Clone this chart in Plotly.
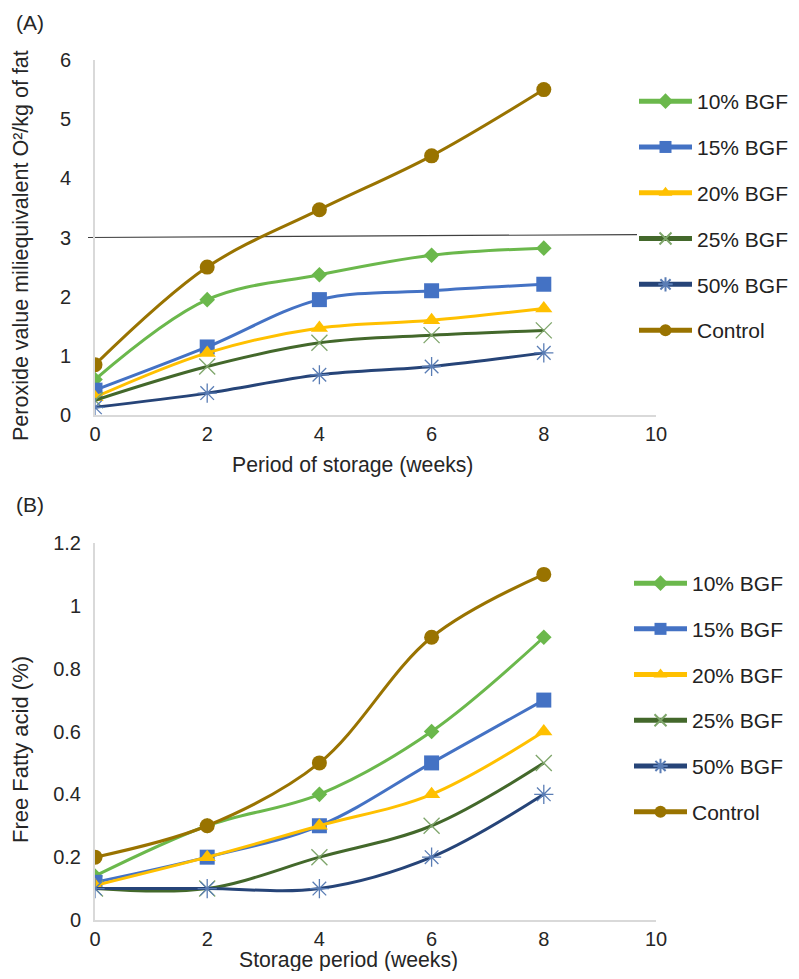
import plotly.graph_objects as go

# Figure is sized to fit inside the page body's default 8px margin
BODY = 8
W, H = 799 - 2 * BODY, 979 - 2 * BODY

weeks = [0, 2, 4, 6, 8]
series_names = ["10% BGF", "15% BGF", "20% BGF", "25% BGF", "50% BGF", "Control"]

# Panel A: peroxide value
pv_10 = [0.60, 1.95, 2.37, 2.70, 2.82]
pv_15 = [0.42, 1.15, 1.95, 2.10, 2.21]
pv_20 = [0.30, 1.05, 1.47, 1.60, 1.80]
pv_25 = [0.25, 0.82, 1.22, 1.35, 1.43]
pv_50 = [0.13, 0.37, 0.68, 0.82, 1.05]
pv_ctrl = [0.85, 2.50, 3.47, 4.38, 5.50]

# Panel B: free fatty acid
ffa_10 = [0.14, 0.30, 0.40, 0.60, 0.90]
ffa_15 = [0.12, 0.20, 0.30, 0.50, 0.70]
ffa_20 = [0.11, 0.20, 0.30, 0.40, 0.60]
ffa_25 = [0.10, 0.10, 0.20, 0.30, 0.50]
ffa_50 = [0.10, 0.10, 0.10, 0.20, 0.40]
ffa_ctrl = [0.20, 0.30, 0.50, 0.90, 1.10]

limit_value = [3.0, 3.05]  # reference line (slightly tilted in the original)

colors = ["#6BB84C", "#4472C4", "#FFC000", "#43682B", "#264478", "#997300"]
marker_line = ["#6BB84C", "#4472C4", "#FFC000", "#7EA56A", "#5A7DB5", "#997300"]
symbols = ["diamond", "square", "triangle-up", "x-thin", "asterisk", "circle"]
msizes = [12, 15, 15, 16, 16, 15]

FONT = "Liberation Sans, Arial, sans-serif"
TXT = "#262626"

def px_x(p):
    return (p - BODY) / W

def px_y(p):
    return 1 - (p - BODY) / H

fig = go.Figure()

for panel, data, xa, ya, leg in [
    ("a", [pv_10, pv_15, pv_20, pv_25, pv_50, pv_ctrl], "x", "y", "legend"),
    ("b", [ffa_10, ffa_15, ffa_20, ffa_25, ffa_50, ffa_ctrl], "x2", "y2", "legend2"),
]:
    for i, (name, vals) in enumerate(zip(series_names, data)):
        thin = symbols[i] in ("x-thin", "asterisk")
        marker = dict(symbol=symbols[i], size=msizes[i], color=colors[i],
                      line=dict(color=marker_line[i], width=1.3 if thin else 0))
        fig.add_trace(go.Scatter(
            x=weeks, y=vals, name=name, mode="lines+markers",
            line=dict(color=colors[i], width=3, shape="spline", smoothing=1),
            marker=marker, xaxis=xa, yaxis=ya, legend=leg,
            legendgroup=f"{panel}{i}",
        ))

axis_common = dict(showgrid=False, zeroline=False, showline=True,
                   linecolor="#D9D9D9", linewidth=2, ticks="", automargin=False,
                   tickfont=dict(family=FONT, size=20, color=TXT))

xdom = [px_x(95), px_x(656)]
legend_font = dict(family=FONT, size=21, color="#222")
fig.update_layout(
    width=W, height=H,
    margin=dict(l=0, r=0, t=0, b=0, autoexpand=False),
    paper_bgcolor="white", plot_bgcolor="white",
    font=dict(family=FONT, color=TXT),
    xaxis=dict(domain=xdom, range=[0, 10], tickvals=[0, 2, 4, 6, 8, 10],
               anchor="y", ticklabelstandoff=0, **axis_common),
    yaxis=dict(domain=[px_y(415), px_y(60)], range=[0, 6], dtick=1,
               anchor="x", ticklabelstandoff=18, **axis_common),
    xaxis2=dict(domain=xdom, range=[0, 10], tickvals=[0, 2, 4, 6, 8, 10],
                anchor="y2", ticklabelstandoff=0, **axis_common),
    yaxis2=dict(domain=[px_y(920), px_y(543)], range=[0, 1.2], dtick=0.2,
                anchor="x2", ticklabelstandoff=8, **axis_common),
    legend=dict(x=px_x(634), y=px_y(81), xanchor="left", yanchor="top",
                font=legend_font, tracegroupgap=15.5, itemsizing="constant",
                bgcolor="rgba(0,0,0,0)", itemwidth=53),
    legend2=dict(x=px_x(629), y=px_y(563), xanchor="left", yanchor="top",
                 font=legend_font, tracegroupgap=15.4, itemsizing="constant",
                 bgcolor="rgba(0,0,0,0)", itemwidth=53),
    showlegend=True,
)

fig.add_shape(type="line", xref="paper", yref="y",
              x0=px_x(88), x1=px_x(637), y0=limit_value[0], y1=limit_value[1],
              line=dict(color="#404040", width=1.2), layer="below")

def ann(size):
    return dict(showarrow=False, xref="paper", yref="paper",
                font=dict(family=FONT, size=size, color=TXT))

fig.add_annotation(text="(A)", x=px_x(14), y=px_y(22),
                   xanchor="left", yanchor="middle", **ann(21))
fig.add_annotation(text="(B)", x=px_x(14), y=px_y(504),
                   xanchor="left", yanchor="middle", **ann(21))
fig.add_annotation(text="Period of storage (weeks)", x=px_x(352), y=px_y(465),
                   xanchor="center", yanchor="middle", **ann(21.2))
fig.add_annotation(text="Storage period (weeks)", x=px_x(348), y=-3 / H,
                   xanchor="center", yanchor="bottom", **ann(21.2))
fig.add_annotation(text="Peroxide value miliequivalent O²/kg of fat", x=px_x(21), y=px_y(246),
                   xanchor="center", yanchor="middle", textangle=-90, **ann(21.5))
fig.add_annotation(text="Free Fatty acid (%)", x=px_x(20), y=px_y(750),
                   xanchor="center", yanchor="middle", textangle=-90, **ann(22))

fig.write_html("out.html")
